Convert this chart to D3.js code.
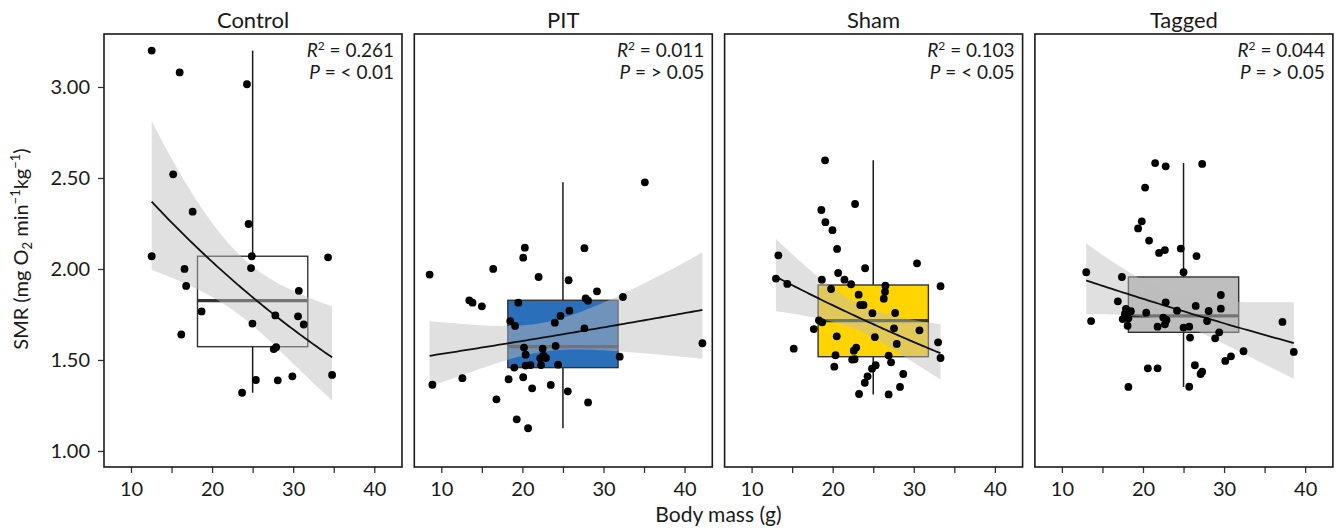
<!DOCTYPE html>
<html>
<head>
<meta charset="utf-8">
<script src="https://cdn.jsdelivr.net/npm/d3@7"></script>
<style>
  body { margin: 0; background: #fff; }
  text { font-family: Lato, "Open Sans", sans-serif; fill: #1a1a1a; }
</style>
</head>
<body>
<svg id="chart" width="1336" height="530"></svg>
<script>
// groups and their labels
var groups = ["Control", "PIT", "Sham", "Tagged"];
var r2Labels = ["0.261", "0.011", "0.103", "0.044"];
var pLabels = ["< 0.01", "> 0.05", "< 0.05", "> 0.05"];

// boxplot stats (SMR)
var boxQ1  = [1.573, 1.458, 1.518, 1.652];
var boxMed = [1.826, 1.573, 1.716, 1.742];
var boxQ3  = [2.070, 1.828, 1.912, 1.956];

var xTicks = [10, 15, 20, 25, 30, 35, 40];
var yTicks = [1.00, 1.50, 2.00, 2.50, 3.00];

// [body mass (g), SMR]
var controlPts = [
  [12.55, 3.20], [16.0, 3.08], [24.3, 3.015], [15.2, 2.52], [17.6, 2.315], [24.5, 2.247],
  [12.55, 2.07], [24.9, 2.07], [34.3, 2.064], [16.6, 2.00], [24.8, 2.005], [16.8, 1.907],
  [30.7, 1.88], [18.7, 1.767], [27.8, 1.745], [30.6, 1.74], [24.98, 1.70], [31.3, 1.695],
  [16.2, 1.64], [27.6, 1.56], [27.9, 1.57], [34.8, 1.418], [25.4, 1.39], [28.1, 1.388],
  [29.9, 1.41], [23.7, 1.32]
];
var pitPts = [
  [35.1, 2.476], [20.3, 2.117], [20.1, 2.062], [27.65, 2.114], [8.56, 1.969], [16.4, 2.00],
  [22.0, 1.956], [25.7, 1.938], [13.45, 1.828], [13.85, 1.815], [15.0, 1.795], [19.5, 1.815],
  [29.2, 1.877], [27.8, 1.839], [28.1, 1.826], [32.4, 1.846], [25.8, 1.771], [24.7, 1.742],
  [24.0, 1.705], [18.5, 1.714], [19.1, 1.687], [27.65, 1.674], [20.2, 1.568], [22.5, 1.562],
  [24.1, 1.577], [20.4, 1.529], [22.2, 1.509], [22.9, 1.511], [22.6, 1.524], [32.0, 1.518],
  [42.2, 1.592], [19.0, 1.458], [20.4, 1.469], [21.0, 1.472], [22.3, 1.472], [24.4, 1.474],
  [8.9, 1.364], [12.6, 1.40], [18.3, 1.394], [20.1, 1.405], [21.2, 1.344], [23.5, 1.363],
  [25.6, 1.328], [16.8, 1.284], [28.1, 1.267], [19.3, 1.174], [20.7, 1.125]
];
var shamPts = [
  [19.06, 2.597], [22.76, 2.357], [18.6, 2.324], [19.1, 2.257], [19.97, 2.213], [20.54, 2.11],
  [13.3, 2.075], [30.4, 2.031], [24.0, 2.004], [13.0, 1.947], [14.4, 1.918], [18.66, 1.941],
  [20.67, 1.978], [21.45, 1.941], [22.27, 1.916], [19.8, 1.89], [26.5, 1.908], [26.45, 1.875],
  [26.3, 1.837], [33.3, 1.905], [23.2, 1.859], [23.4, 1.802], [23.8, 1.802], [24.9, 1.757],
  [27.7, 1.758], [18.3, 1.718], [18.7, 1.707], [17.67, 1.67], [27.56, 1.674], [30.7, 1.663],
  [20.5, 1.63], [25.2, 1.626], [27.9, 1.588], [33.0, 1.597], [15.2, 1.562], [22.9, 1.568],
  [22.6, 1.551], [20.35, 1.526], [22.4, 1.502], [22.7, 1.504], [26.9, 1.524], [27.2, 1.487],
  [33.3, 1.511], [20.2, 1.463], [25.3, 1.471], [24.85, 1.452], [28.7, 1.423], [24.3, 1.41],
  [23.96, 1.375], [28.3, 1.352], [23.25, 1.313], [26.9, 1.311]
];
var taggedPts = [
  [21.5, 2.582], [22.8, 2.564], [27.3, 2.577], [20.26, 2.447], [19.85, 2.262], [19.4, 2.223],
  [20.75, 2.156], [21.98, 2.088], [22.7, 2.104], [24.66, 2.112], [26.6, 2.071], [25.0, 1.982],
  [13.0, 1.982], [17.4, 1.956], [13.6, 1.714], [16.9, 1.822], [17.9, 1.78], [18.5, 1.768],
  [17.76, 1.753], [17.5, 1.725], [18.2, 1.729], [18.1, 1.688], [20.4, 1.76], [22.8, 1.817],
  [24.2, 1.771], [22.5, 1.733], [22.9, 1.72], [22.7, 1.696], [21.8, 1.683], [26.5, 1.797],
  [28.1, 1.769], [27.9, 1.714], [29.6, 1.857], [29.6, 1.782], [25.0, 1.678], [25.7, 1.683],
  [29.4, 1.652], [28.9, 1.619], [25.8, 1.623], [37.2, 1.709], [38.6, 1.544], [32.4, 1.548],
  [30.85, 1.52], [30.15, 1.495], [26.4, 1.471], [27.3, 1.436], [27.1, 1.423], [20.6, 1.454],
  [21.8, 1.454], [18.2, 1.352], [25.7, 1.353]
];
var points = [controlPts, pitPts, shamPts, taggedPts];

// styles
var boxFill = ["#ffffff", "#2a6fba", "#ffd400", "#bebebe"];
var BOX_X = 25, BOX_W = 13.6;   // box position on the mass axis

var M = { left: 104, top: 34 };
var pw = 298, ph = 433, gap = 12.3;

var svg = d3.select("#chart");

var x = d3.scaleLinear().domain([6.67, 43.42]).range([0, pw]);
var y = d3.scaleLinear().domain([0.912, 3.291]).range([ph, 0]);

// t quantile (0.975) approximation
function tq(df) {
    var z = 1.959964;
    return z + (z * z * z + z) / (4 * df) + (5 * Math.pow(z, 5) + 16 * z * z * z + 3 * z) / (96 * df * df);
}

// lm(log(SMR) ~ mass) with 95% band, back-transformed
function logFit(pts) {
    var n = pts.length;
    var xs = pts.map(function(d) { return d[0]; });
    var ls = pts.map(function(d) { return Math.log(d[1]); });
    var mx = d3.mean(xs), ml = d3.mean(ls);
    var sxx = d3.sum(xs, function(v) { return (v - mx) * (v - mx); });
    var sxy = d3.sum(xs, function(v, i) { return (v - mx) * (ls[i] - ml); });
    var b = sxy / sxx, a = ml - b * mx;
    var rss = d3.sum(xs, function(v, i) { return Math.pow(ls[i] - a - b * v, 2); });
    var s = Math.sqrt(rss / (n - 2)), t = tq(n - 2);
    var ext = d3.extent(xs);
    return d3.range(81).map(function(i) {
        var xv = ext[0] + (ext[1] - ext[0]) * i / 80;
        var f = a + b * xv;
        var se = s * Math.sqrt(1 / n + (xv - mx) * (xv - mx) / sxx);
        return { x: xv, fit: Math.exp(f), lo: Math.exp(f - t * se), hi: Math.exp(f + t * se) };
    });
}

var area = d3.area()
    .x(function(d) { return x(d.x); })
    .y0(function(d) { return y(d.lo); })
    .y1(function(d) { return y(d.hi); });

var line = d3.line()
    .x(function(d) { return x(d.x); })
    .y(function(d) { return y(d.fit); });

groups.forEach(function(g, i) {
    var pts = points[i];
    var panel = svg.append("g")
        .attr("class", "panel")
        .attr("transform", "translate(" + (M.left + i * (pw + gap)) + "," + M.top + ")");

    // 标题
    panel.append("text")
        .attr("x", pw / 2)
        .attr("y", -6)
        .attr("text-anchor", "middle")
        .style("font-size", "22px")
        .text(g);

    // whiskers: to min / max
    var ext = d3.extent(pts, function(d) { return d[1]; });
    panel.append("line")
        .attr("x1", x(BOX_X)).attr("x2", x(BOX_X))
        .attr("y1", y(boxQ3[i])).attr("y2", y(ext[1]))
        .attr("stroke", "#1a1a1a").attr("stroke-width", 1.5);
    panel.append("line")
        .attr("x1", x(BOX_X)).attr("x2", x(BOX_X))
        .attr("y1", y(boxQ1[i])).attr("y2", y(ext[0]))
        .attr("stroke", "#1a1a1a").attr("stroke-width", 1.5);

    // box
    panel.append("rect")
        .attr("x", x(BOX_X - BOX_W / 2))
        .attr("width", x(BOX_X + BOX_W / 2) - x(BOX_X - BOX_W / 2))
        .attr("y", y(boxQ3[i]))
        .attr("height", y(boxQ1[i]) - y(boxQ3[i]))
        .attr("fill", boxFill[i])
        .attr("stroke", "#333")
        .attr("stroke-width", 1.4);
    panel.append("line")
        .attr("x1", x(BOX_X - BOX_W / 2)).attr("x2", x(BOX_X + BOX_W / 2))
        .attr("y1", y(boxMed[i])).attr("y2", y(boxMed[i]))
        .attr("stroke", "#333").attr("stroke-width", 3.2);

    // smooth
    var fit = logFit(pts);
    panel.append("path")
        .datum(fit)
        .attr("d", area)
        .attr("fill", "rgb(189,189,189)")
        .attr("fill-opacity", 0.47);
    panel.append("path")
        .datum(fit)
        .attr("d", line)
        .attr("fill", "none")
        .attr("stroke", "#111")
        .attr("stroke-width", 1.8);

    // points
    panel.append("g").selectAll("circle")
        .data(pts)
        .enter().append("circle")
        .attr("cx", function(d) { return x(d[0]); })
        .attr("cy", function(d) { return y(d[1]); })
        .attr("r", 3.9)
        .attr("fill", "#000");

    // stats
    var t1 = panel.append("text")
        .attr("x", pw - 8).attr("y", 23)
        .attr("text-anchor", "end")
        .style("font-size", "19px");
    t1.append("tspan").style("font-style", "italic").text("R");
    t1.append("tspan").attr("dy", -7).style("font-size", "12px").text("2");
    t1.append("tspan").attr("dy", 7).text(" = " + r2Labels[i]);
    panel.append("text")
        .attr("x", pw - 8).attr("y", 45)
        .attr("text-anchor", "end")
        .style("font-size", "19px")
        .html('<tspan font-style="italic">P</tspan> = ' + pLabels[i].replace("<", "&lt;").replace(">", "&gt;"));

    // x axis
    var xa = panel.append("g")
        .attr("transform", "translate(0," + ph + ")")
        .call(d3.axisBottom(x)
            .tickValues(xTicks)
            .tickFormat(function(d) { return d % 10 === 0 ? d : ""; })
            .tickSize(6)
            .tickPadding(9));
    xa.select(".domain").remove();
    xa.selectAll("line").attr("stroke", "#333").attr("stroke-width", 1.3);
    xa.selectAll("text").style("font-size", "20px").attr("fill", "#1a1a1a");

    if (i === 0) {
        var ya = panel.append("g")
            .call(d3.axisLeft(y)
                .tickValues(yTicks)
                .tickFormat(d3.format(".2f"))
                .tickSize(6)
                .tickPadding(8));
        ya.select(".domain").remove();
        ya.selectAll("line").attr("stroke", "#333").attr("stroke-width", 1.3);
        ya.selectAll("text").style("font-size", "20px").attr("fill", "#1a1a1a");
    }

    // frame
    panel.append("rect")
        .attr("width", pw).attr("height", ph)
        .attr("fill", "none")
        .attr("stroke", "#1a1a1a")
        .attr("stroke-width", 1.6);
});

// axis titles
svg.append("text")
    .attr("x", M.left + (4 * pw + 3 * gap) / 2)
    .attr("y", 522)
    .attr("text-anchor", "middle")
    .style("font-size", "21px")
    .text("Body mass (g)");

var yt = svg.append("text")
    .attr("transform", "translate(28,249) rotate(-90)")
    .attr("text-anchor", "middle")
    .style("font-size", "20px");
yt.append("tspan").text("SMR (mg O");
yt.append("tspan").attr("dy", 4).style("font-size", "13px").text("2");
yt.append("tspan").attr("dy", -4).text(" min");
yt.append("tspan").attr("dy", -8).style("font-size", "13px").text("\u22121");
yt.append("tspan").attr("dy", 8).text("kg");
yt.append("tspan").attr("dy", -8).style("font-size", "13px").text("\u22121");
yt.append("tspan").attr("dy", 8).text(")");
</script>
</body>
</html>
